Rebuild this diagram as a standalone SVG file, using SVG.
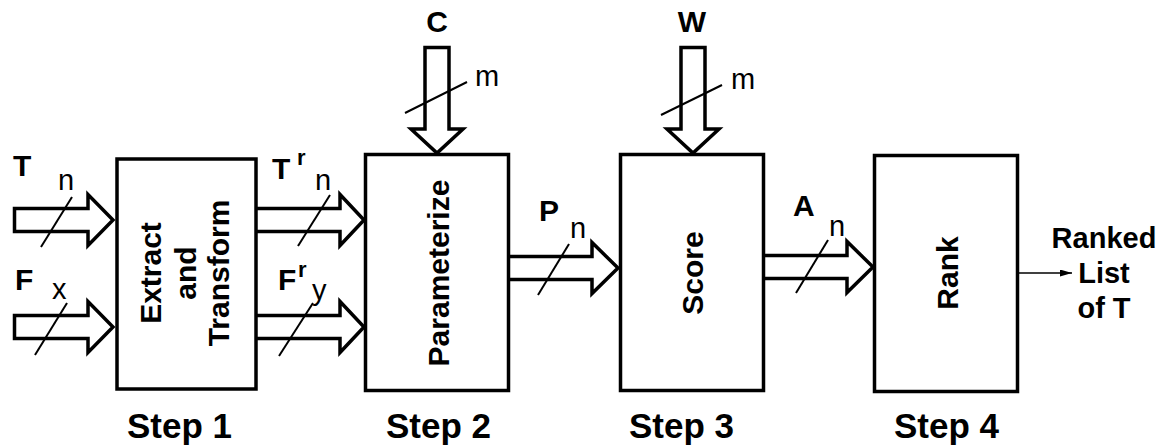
<svg xmlns="http://www.w3.org/2000/svg" width="1166" height="448" viewBox="0 0 1166 448">
<defs>
<style>
.box{fill:#fff;stroke:#000;stroke-width:3.5}
.bus{fill:#fff;stroke:#000;stroke-width:3.5;stroke-linejoin:miter}
.sl{stroke:#000;stroke-width:2;fill:none}
.b{font-family:"Liberation Sans",Arial,sans-serif;font-weight:bold;fill:#000}
.r{font-family:"Liberation Sans",Arial,sans-serif;fill:#000}
.lbl{font-size:30px}
.sup{font-size:22px}
.sub{font-size:29px}
.step{font-size:35px}
.bt{font-size:30px;text-anchor:middle}
</style>
<marker id="ah" viewBox="0 0 12 7" refX="12" refY="3.5" markerWidth="12" markerHeight="7" markerUnits="userSpaceOnUse" orient="auto"><path d="M0,0 L12,3.5 L0,7 z" fill="#000"/></marker>
</defs>
<rect width="1166" height="448" fill="#fff"/>

<g id="connectors">
<polygon class="bus" points="14.5,208.5 88,208.5 88,194.5 113,220 88,245.5 88,231.5 14.5,231.5"/>
<polygon class="bus" points="14.5,315.5 88,315.5 88,301.5 113,327 88,352.5 88,338.5 14.5,338.5"/>
<polyline class="bus" points="256,208.5 340,208.5 340,194.5 364,220 340,245.5 340,231.5 256,231.5"/>
<polyline class="bus" points="256,315.5 340,315.5 340,301.5 364,327 340,352.5 340,338.5 256,338.5"/>
<polyline class="bus" points="510,256.5 592,256.5 592,242.5 618,268 592,293.5 592,279.5 510,279.5"/>
<polyline class="bus" points="765,255.5 847,255.5 847,241.5 873,267 847,292.5 847,278.5 765,278.5"/>
<polygon class="bus" points="425,47.5 449,47.5 449,129 463,129 437,153 411,129 425,129"/>
<polygon class="bus" points="681,47.5 705,47.5 705,129 719,129 693,153 667,129 681,129"/>
<line class="sl" x1="41" y1="247" x2="72" y2="197"/>
<line class="sl" x1="35" y1="355" x2="67" y2="303"/>
<line class="sl" x1="298" y1="246" x2="330" y2="195"/>
<line class="sl" x1="279" y1="356" x2="313" y2="303"/>
<line class="sl" x1="538" y1="295" x2="569" y2="244"/>
<line class="sl" x1="796" y1="293" x2="828" y2="240"/>
<line class="sl" x1="405" y1="113" x2="467" y2="82"/>
<line class="sl" x1="661" y1="115" x2="722" y2="85"/>
<line x1="1019" y1="273" x2="1072" y2="273" stroke="#000" stroke-width="1.6" marker-end="url(#ah)"/>
<text class="b lbl" x="13" y="176">T</text>
<text class="r sub" x="58" y="190">n</text>
<text class="b lbl" x="15" y="290">F</text>
<text class="r sub" x="52" y="299">x</text>
<text class="b lbl" x="272" y="179">T</text>
<text class="b sup" x="297" y="165">r</text>
<text class="r sub" x="315" y="190">n</text>
<text class="b lbl" x="278" y="290">F</text>
<text class="b sup" x="298" y="277">r</text>
<text class="r sub" x="312" y="300">y</text>
<text class="b lbl" x="539" y="221">P</text>
<text class="r sub" x="570" y="238">n</text>
<text class="b lbl" x="793" y="216">A</text>
<text class="r sub" x="829" y="236">n</text>
<text class="b lbl" x="437" y="32" text-anchor="middle">C</text>
<text class="r sub" x="475" y="86">m</text>
<text class="b lbl" x="692" y="32" text-anchor="middle">W</text>
<text class="r sub" x="731" y="89">m</text>
</g>

<g id="step1">
<rect class="box" x="117" y="159" width="139" height="230"/>
<text class="b bt" transform="translate(161,273) rotate(-90)">Extract</text>
<text class="b bt" transform="translate(196,273) rotate(-90)">and</text>
<text class="b bt" transform="translate(229,273) rotate(-90)">Transform</text>
<text class="b step" x="127" y="438">Step 1</text>
</g>
<g id="step2">
<rect class="box" x="365.5" y="154.5" width="143" height="236"/>
<text class="b bt" transform="translate(449,273) rotate(-90)">Parameterize</text>
<text class="b step" x="386" y="438">Step 2</text>
</g>
<g id="step3">
<rect class="box" x="620.5" y="154.5" width="143" height="236"/>
<text class="b bt" transform="translate(703,273) rotate(-90)">Score</text>
<text class="b step" x="629" y="438">Step 3</text>
</g>
<g id="step4">
<rect class="box" x="874.5" y="155.5" width="143" height="236"/>
<text class="b bt" transform="translate(958,273) rotate(-90)">Rank</text>
<text class="b step" x="894" y="438">Step 4</text>
</g>
<g id="output">
<text class="b" font-size="29" text-anchor="middle" x="1104" y="248">Ranked</text>
<text class="b" font-size="29" text-anchor="middle" x="1104" y="283">List</text>
<text class="b" font-size="29" text-anchor="middle" x="1104" y="318">of T</text>
</g>
</svg>
